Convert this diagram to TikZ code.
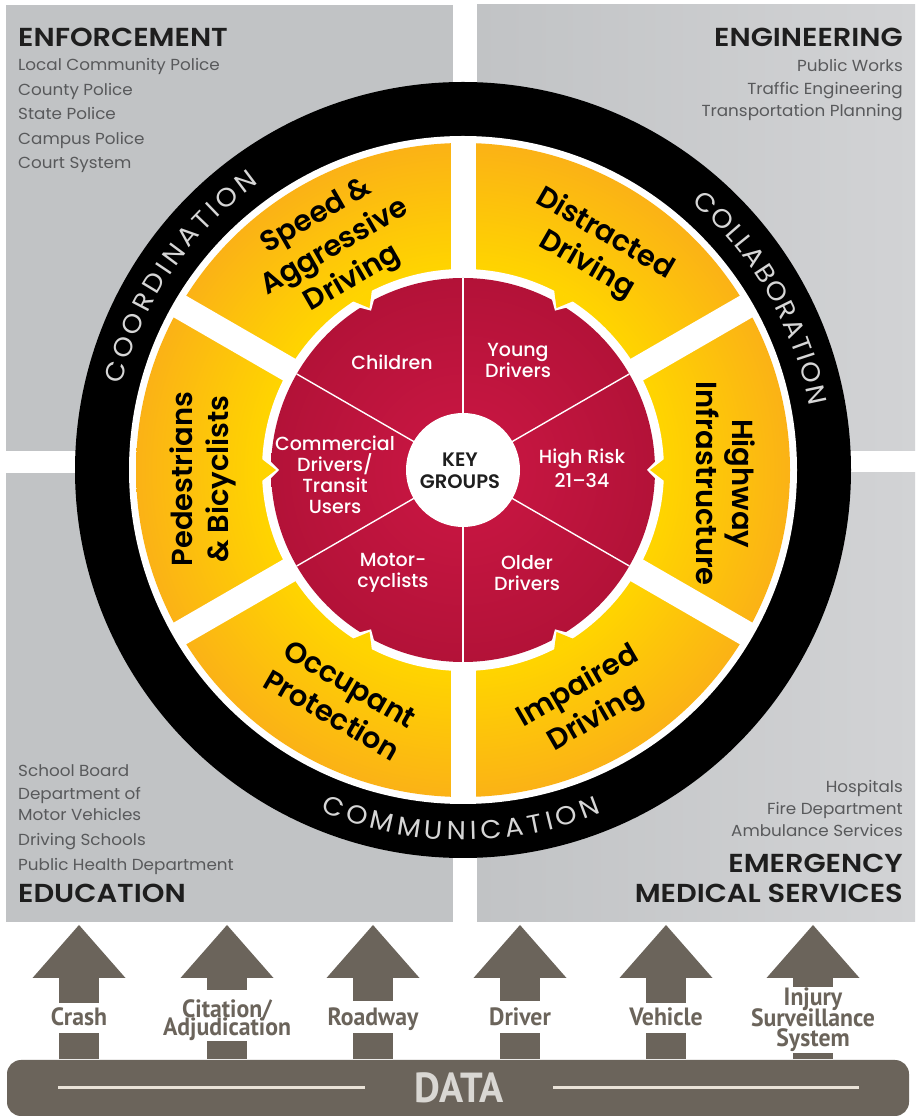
\documentclass[tikz,border=0pt]{standalone}
\usepackage{fontspec}
\setmainfont{Poppins}[FakeStretch=1.05]
\newfontfamily\popsb{Poppins SemiBold}
\newfontfamily\popttl{Poppins SemiBold}[FakeStretch=1.11]
\newfontfamily\popmd{Poppins Medium}
\newfontfamily\condf{PT Sans}[FakeStretch=0.95]
\usetikzlibrary{calc,decorations.text}
\definecolor{qgray}{HTML}{C1C3C5}
\definecolor{qgrayL}{HTML}{D2D3D5}
\definecolor{ttl}{HTML}{1E1E1E}
\definecolor{subg}{HTML}{58595B}
\definecolor{yIn}{HTML}{FFD400}
\definecolor{yOut}{HTML}{FBB216}
\definecolor{rIn}{HTML}{CC1744}
\definecolor{rOut}{HTML}{B31238}
\definecolor{taupe}{HTML}{6B645B}
\definecolor{ringtxt}{HTML}{D6D6D6}
\definecolor{datatxt}{HTML}{D9D7D3}
\definecolor{dline}{HTML}{E9E2D8}
\pgfdeclareradialshading{yring}{\pgfpoint{0bp}{0bp}}{color(0bp)=(yIn); color(15.5bp)=(yIn); color(25bp)=(yOut); color(50bp)=(yOut)}
\pgfdeclareradialshading{rdisc}{\pgfpoint{0bp}{0bp}}{color(0bp)=(rIn); color(25bp)=(rOut); color(50bp)=(rOut)}
\newcommand{\DArrow}[3]{%
  \fill[taupe] (#1-46.5,139) -- (#1,192) -- (#1+46.5,139) -- cycle;
  \fill[taupe] (#1-20,139.5) rectangle (#1+20,#2);
  \fill[taupe] (#1-20,#3) rectangle (#1+20,57.5);
}
\begin{document}
\begin{tikzpicture}[x=1pt,y=1pt,
  ttl/.style={font=\popttl\fontsize{26}{26}\selectfont, text=ttl, inner sep=0},
  sub/.style={font=\fontsize{16}{16}\selectfont, text=subg, inner sep=0},
  ylab/.style={font=\popsb\fontsize{29}{36}\selectfont, align=center, text=black, inner sep=0},
  rlab/.style={font=\popmd\fontsize{19}{21}\selectfont, align=center, text=white, inner sep=0},
  alab/.style={font=\condf\bfseries\fontsize{25}{25}\selectfont, text=taupe, inner sep=0}]
\useasboundingbox (0,0) rectangle (921,1117);
\fill[white] (0,0) rectangle (921,1117);
\coordinate (C) at (463,647);
% quadrants
\fill[qgray] (6,666) rectangle (453,1112);
\shade[left color=qgray, right color=qgrayL] (477,666) rectangle (915,1112);
\fill[qgray] (6,195) rectangle (453,644);
\shade[left color=qgray, right color=qgrayL] (477,195) rectangle (915,644);
% black ring
\fill[black] (C) circle[radius=388];
\fill[white] (C) circle[radius=334];
% yellow ring
\shade[shading=yring] (C) circle[radius=327];
\fill[white] (C) circle[radius=201];
\foreach \a in {30,90,...,330}
  \draw[white, line width=25] ($(C)+(\a:190)$) -- ($(C)+(\a:331)$);
% red disc
\shade[shading=rdisc] (C) circle[radius=192];
\foreach \a in {0,60,...,300}{
  \fill[white] ($(C)+(\a-4.2:199)$) -- ($(C)+(\a:184)$) -- ($(C)+(\a+4.2:199)$) -- cycle;
  \fill[yIn] ($(C)+(\a-3.2:202)$) -- ($(C)+(\a:187)$) -- ($(C)+(\a+3.2:202)$) -- cycle;
}
\foreach \a in {30,90,...,330}
  \draw[white, line width=1.4] ($(C)+(\a:56)$) -- ($(C)+(\a:192)$);
\fill[white] (C) circle[radius=57];
% ring texts
\path[decorate, decoration={text along path, text={|\fontsize{26}{26}\selectfont\color{ringtxt}|COORDINATION}, text align={fit to path}}]
  ($(C)+(166:352)$) arc[start angle=166, end angle=125.5, radius=352];
\path[decorate, decoration={text along path, text={|\fontsize{26}{26}\selectfont\color{ringtxt}|COLLABORATION}, text align={fit to path}}]
  ($(C)+(49.5:352)$) arc[start angle=49.5, end angle=10.5, radius=352];
\path[decorate, decoration={text along path, text={|\fontsize{26}{26}\selectfont\color{ringtxt}|COMMUNICATION}, text align={fit to path}}]
  ($(C)+(247.3:370)$) arc[start angle=247.3, end angle=292, radius=370];
% yellow labels
\node[ylab, rotate=30] (speed) at ($(C)+(120:256)$) {Speed \&\\Aggressive\\Driving};
\node[ylab, rotate=-30] (distr) at ($(C)+(59:257)$) {Distracted\\Driving};
\node[ylab, rotate=-90] (highw) at ($(C)+(-3:263)$) {Highway\\Infrastructure};
\node[ylab, rotate=30] (impair) at ($(C)+(298:264)$) {Impaired\\Driving};
\node[ylab, rotate=-30] (occup) at ($(C)+(242:260)$) {Occupant\\Protection};
\node[ylab, rotate=90] (pedes) at ($(C)+(182:260)$) {Pedestrians\\\& Bicyclists};
% red labels
\node[rlab] (child) at (392,755) {Children};
\node[rlab] (young) at (518,757) {Young\\Drivers};
\node[rlab, font=\popmd\fontsize{19}{24}\selectfont] (high) at (582,649) {High Risk\\21–34};
\node[rlab] (older) at (527,544) {Older\\Drivers};
\node[rlab] (motor) at (393,544) {Motor-\\cyclists};
\node[rlab] (comm) at (335,642) {Commercial\\Drivers/\\Transit\\Users};
\node[font=\popsb\fontsize{19.5}{22}\selectfont, align=center, text=ttl, inner sep=0] (key) at (460,646) {KEY\\GROUPS};
% quadrant texts
\node[ttl, anchor=base west] (enf) at (18,1070) {ENFORCEMENT};
\foreach \t [count=\i] in {Local Community Police,County Police,State Police,Campus Police,Court System}
  \node[sub, anchor=base west] (enf\i) at (18,{1046-24.5*(\i-1)}) {\t};
\node[ttl, anchor=base east] (eng) at (903,1070) {ENGINEERING};
\foreach \t/\y [count=\i] in {Public Works/1045,Traffic Engineering/1022.5,Transportation Planning/1000}
  \node[sub, anchor=base east] (eng\i) at (903,\y) {\t};
\foreach \t/\y [count=\i] in {School Board/340,Department of/317,Motor Vehicles/296,Driving Schools/271,Public Health Department/246}
  \node[sub, anchor=base west] (edu\i) at (18,\y) {\t};
\node[ttl, anchor=base west] (edu) at (18,214) {EDUCATION};
\foreach \t/\y [count=\i] in {Hospitals/324,Fire Department/302,Ambulance Services/280}
  \node[sub, anchor=base east] (ems\i) at (903,\y) {\t};
\node[ttl, anchor=base east] (emsA) at (903,244) {EMERGENCY};
\node[ttl, anchor=base east] (emsB) at (903,214) {MEDICAL SERVICES};
% data bar
\fill[taupe, rounded corners=14] (7,1) rectangle (909,57);
\DArrow{79}{114}{84}
\DArrow{227}{127}{76}
\DArrow{373}{116}{84}
\DArrow{520}{116}{84}
\DArrow{666}{114}{84}
\DArrow{813}{130}{64}
\draw[dline, line width=3] (58,29) -- (365,29);
\draw[dline, line width=3] (553,29) -- (859,29);
\node[font=\condf\bfseries\fontsize{42}{42}\selectfont, text=datatxt, anchor=base, inner sep=0] (data) at (459,14) {DATA};
\node[alab, anchor=base] (crash) at (79,91) {Crash};
\node[alab, anchor=base] (cit1) at (227,99.5) {Citation/};
\node[alab, anchor=base] (cit2) at (227,81.5) {Adjudication};
\node[alab, anchor=base] (road) at (373,91) {Roadway};
\node[alab, anchor=base] (driver) at (520,91) {Driver};
\node[alab, anchor=base] (vehic) at (666,91) {Vehicle};
\node[alab, anchor=base] (inj1) at (813,111) {Injury};
\node[alab, anchor=base] (inj2) at (813,90) {Surveillance};
\node[alab, anchor=base] (inj3) at (813,70) {System};
\end{tikzpicture}
\end{document}
